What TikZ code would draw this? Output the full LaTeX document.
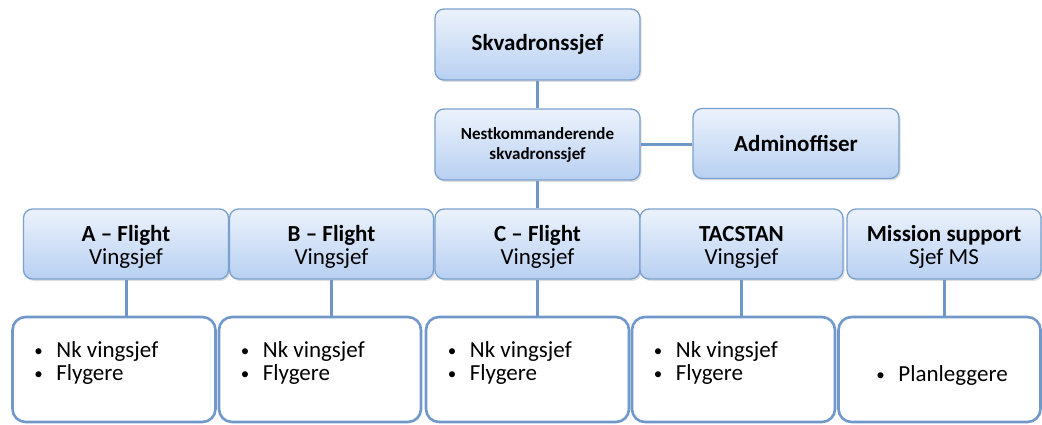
\documentclass[tikz,border=0pt]{standalone}
\usepackage{fontspec}
\setmainfont{Carlito}
\usetikzlibrary{shadows}
\definecolor{boxline}{RGB}{122,160,205}
\definecolor{boxtop}{RGB}{236,242,252}
\definecolor{boxbot}{RGB}{184,208,242}
\definecolor{conn}{RGB}{110,150,198}
\definecolor{listline}{RGB}{112,152,202}
\tikzset{
  role/.style={draw=boxline, line width=1.3pt, rounded corners=9pt,
    top color=boxtop, bottom color=boxbot, align=center,
    drop shadow={shadow xshift=1.5pt, shadow yshift=-2pt, opacity=0.25},
    inner sep=0pt, font=\fontsize{23}{23}\selectfont},
  listbox/.style={draw=listline, line width=2.6pt, rounded corners=13pt,
    fill=white, inner sep=0pt},
  items/.style={anchor=north west, align=left, inner sep=0pt,
    font=\fontsize{23}{23}\selectfont},
  link/.style={draw=conn, line width=3pt}
}
\newcommand{\itm}[1]{\makebox[22pt][l]{\raisebox{1.5pt}{\fontsize{17}{17}\selectfont\textbullet}}#1}
\newcommand{\lowr}{\rule{0pt}{22pt}}
\begin{document}
\begin{tikzpicture}[x=1pt,y=-1pt]
\useasboundingbox (0,0) rectangle (1042,425);
% command chain
\node[role, minimum width=205pt, minimum height=71pt] (chief) at (537.5,44.5) {\textbf{Skvadronssjef}};
\node[role, minimum width=205pt, minimum height=71pt, font=\fontsize{17}{20}\selectfont] (deputy) at (537.5,144.5) {\textbf{Nestkommanderende}\\\textbf{skvadronssjef}};
\node[role, minimum width=206pt, minimum height=70pt] (admin) at (796,143.5) {\textbf{Adminoffiser}};
% flights
\node[role, minimum width=205pt, minimum height=70pt] (fa) at (126,244) {\lowr\textbf{A -- Flight}\\Vingsjef};
\node[role, minimum width=204pt, minimum height=70pt] (fb) at (331.5,244) {\lowr\textbf{B -- Flight}\\Vingsjef};
\node[role, minimum width=205pt, minimum height=70pt] (fc) at (537.5,244) {\lowr\textbf{C -- Flight}\\Vingsjef};
\node[role, minimum width=203pt, minimum height=70pt] (ft) at (741.5,244) {\lowr\textbf{TACSTAN}\\Vingsjef};
\node[role, minimum width=194pt, minimum height=70pt] (fm) at (944,244) {\lowr\textbf{Mission support}\\Sjef MS};
% staff boxes
\node[listbox, minimum width=203pt, minimum height=105pt] (la) at (114,369.5) {};
\node[listbox, minimum width=202pt, minimum height=105pt] (lb) at (320,369.5) {};
\node[listbox, minimum width=203pt, minimum height=105pt] (lc) at (527.5,369.5) {};
\node[listbox, minimum width=203pt, minimum height=105pt] (lt) at (733.5,369.5) {};
\node[listbox, minimum width=202pt, minimum height=105pt] (lm) at (939.5,369.5) {};
% links
\draw[link] (chief.south) -- (deputy.north);
\draw[link] (deputy.east) -- (deputy.east -| admin.west);
\draw[link] (deputy.south) -- (fc.north);
\draw[link] (fa.south) -- (fa.south |- la.north);
\draw[link] (fb.south) -- (fb.south |- lb.north);
\draw[link] (fc.south) -- (fc.south |- lc.north);
\draw[link] (ft.south) -- (ft.south |- lt.north);
\draw[link] (fm.south) -- (fm.south |- lm.north);
% list texts
\node[items] (ta) at ([xshift=23pt,yshift=-26pt]la.north west) {\itm{Nk vingsjef}\\\itm{Flygere}};
\node[items] (tb) at ([xshift=23pt,yshift=-26pt]lb.north west) {\itm{Nk vingsjef}\\\itm{Flygere}};
\node[items] (tc) at ([xshift=23pt,yshift=-26pt]lc.north west) {\itm{Nk vingsjef}\\\itm{Flygere}};
\node[items] (tt) at ([xshift=23pt,yshift=-26pt]lt.north west) {\itm{Nk vingsjef}\\\itm{Flygere}};
\node[items] (tm) at ([xshift=39pt,yshift=-50pt]lm.north west) {\itm{Planleggere}};
\end{tikzpicture}
\end{document}
